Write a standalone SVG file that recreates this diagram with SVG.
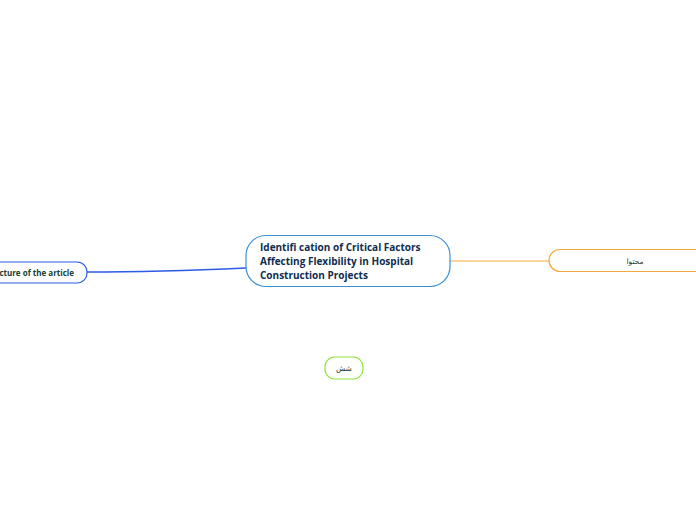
<svg xmlns="http://www.w3.org/2000/svg" width="696" height="520" viewBox="0 0 696 520">
<style>
.node{fill:#ffffff;stroke-width:1.2}
.t{font-family:"Open Sans","Noto Sans","DejaVu Sans",sans-serif;font-weight:bold;fill:#0f2d4f}
.s{font-family:"DejaVu Sans","Noto Sans",sans-serif;font-size:7.5px;fill:#1b3a2a}
</style>
<rect width="696" height="520" fill="#ffffff"/>
<g id="connectors" fill="none">
<path d="M246,268 C180,271 140,272 87,272" stroke="#2d5be3" stroke-width="1.5"/>
<path d="M450,261 L549,261" stroke="#f5a93a" stroke-width="1.2"/>
</g>
<g id="central">
<rect class="node" x="246" y="235.5" width="204" height="51" rx="20" stroke="#3b8fd6"/>
<text class="t" font-size="10"><tspan x="260" y="251">Identifi cation of Critical Factors</tspan><tspan x="260" y="265">Affecting Flexibility in Hospital</tspan><tspan x="260" y="279">Construction Projects</tspan></text>
</g>
<g id="structure">
<rect class="node" x="-40" y="262" width="127" height="21" rx="10" stroke="#2d5be3"/>
<text class="t" font-size="8" x="74" y="275.5" text-anchor="end" style="fill:#17402e">Structure of the article</text>
</g>
<g id="mohtava">
<rect class="node" x="549" y="249.5" width="170" height="22" rx="11" stroke="#f5a93a"/>
<text class="s" x="635" y="264" text-anchor="middle">محتوا</text>
</g>
<g id="shesh">
<rect class="node" x="325" y="357" width="38" height="22" rx="10" stroke="#8fe63c"/>
<text class="s" x="344" y="371" text-anchor="middle">شش</text>
</g>
</svg>
